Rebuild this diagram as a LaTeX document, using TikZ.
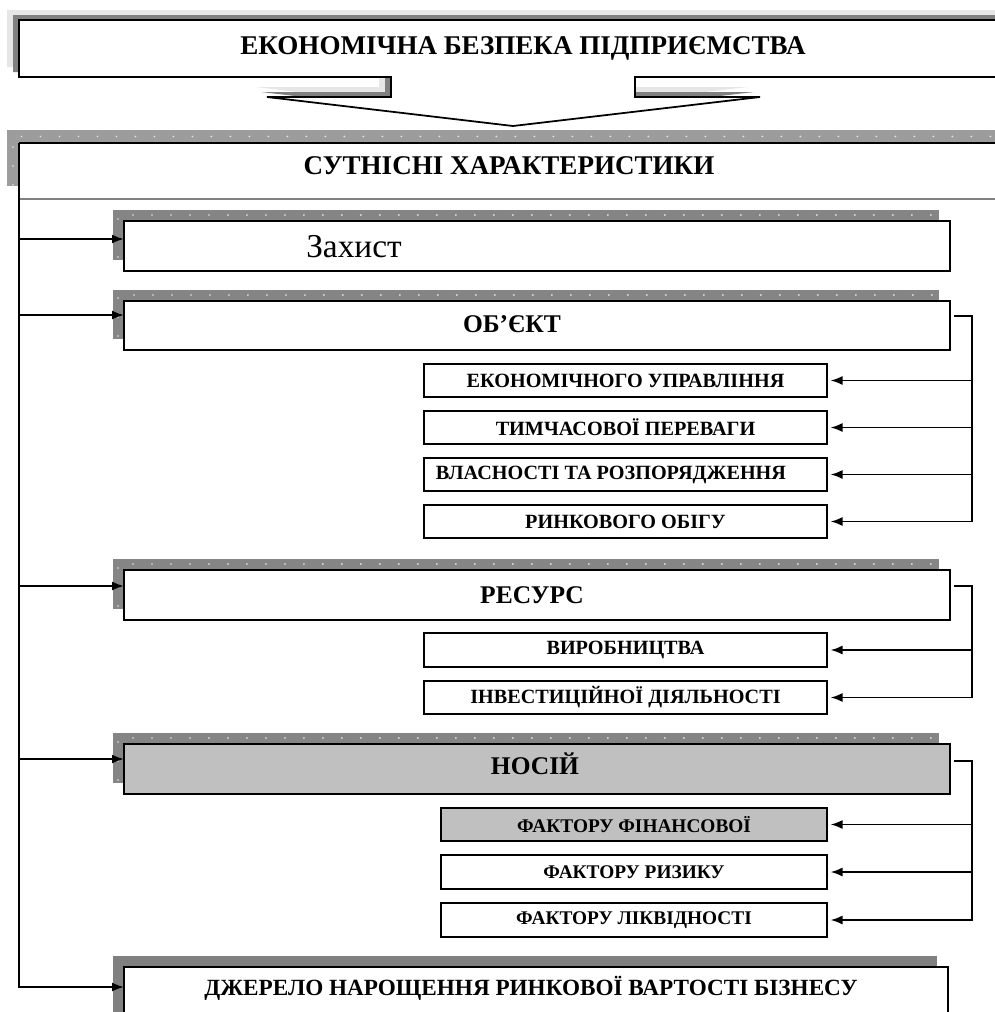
\documentclass[tikz,border=0pt]{standalone}
\usepackage{fontspec}
\setmainfont{Liberation Serif}
\usetikzlibrary{arrows.meta,shadows}

\definecolor{shdark}{HTML}{808080}
\definecolor{shlight}{HTML}{E6E6E6}
\definecolor{shdot}{HTML}{858585}
\definecolor{hdrgray}{HTML}{9C9C9C}
\definecolor{silver}{HTML}{C0C0C0}

\tikzset{
  sz/.style 2 args={minimum width=#1*0.02cm, minimum height=#2*0.02cm},
  titlefont/.style={font=\bfseries\fontsize{15.4}{18}\selectfont},
  bigfont/.style={font=\bfseries\fontsize{14.5}{17}\selectfont},
  bigbox/.style={draw, line width=1pt, fill=white, anchor=north west,
    inner sep=0pt, outer sep=0pt, bigfont},
  dotshadow/.style={drop shadow={shadow xshift=-0.22cm, shadow yshift=0.22cm,
    fill=shdot, opacity=1}},
  flatshadow/.style={drop shadow={shadow xshift=-0.22cm, shadow yshift=0.22cm,
    fill=shdark, opacity=1}},
  subfont/.style={font=\bfseries\fontsize{11.5}{13}\selectfont},
  subbox/.style={draw, line width=0.8pt, fill=white, anchor=north west,
    inner sep=0pt, outer sep=0pt, subfont},
  arr/.style={line width=1.1pt, -{Latex[length=2.4mm,width=1.8mm]}},
  dotrow/.style={white!80!gray, line width=1.1pt, line cap=round,
    dash pattern=on 0pt off 0.38cm},
}

\begin{document}
\begin{tikzpicture}[x=0.02cm, y=-0.02cm]
\useasboundingbox (0,0) rectangle (995,1012);

% title with the down pointer
\foreach \dx/\dy/\c in {-12/-10/shlight,-6/-5/shdark,0/0/white}
  \fill[\c, shift={(\dx,\dy)}] (19,20) -- (1010,20) -- (1010,77) -- (635,77)
    -- (635,97) -- (760,97) -- (513,126) -- (267,97) -- (391,97) -- (391,77)
    -- (19,77) -- cycle;
\draw[line width=1pt] (19,20) -- (1010,20) -- (1010,77) -- (635,77)
    -- (635,97) -- (760,97) -- (513,126) -- (267,97) -- (391,97) -- (391,77)
    -- (19,77) -- cycle;
\node[titlefont] (top) at (523,48) {ЕКОНОМІЧНА БЕЗПЕКА ПІДПРИЄМСТВА};

% header
\node[anchor=north west, sz={1000}{56}, inner sep=0pt, outer sep=0pt, fill=white,
  drop shadow={shadow xshift=-0.24cm, shadow yshift=0.26cm, fill=hdrgray, opacity=1}]
  (hdr) at (19,143) {};
\draw[dotrow] ([shift={(-6,-14)}]hdr.south west) -- ([shift={(-6,-6.5)}]hdr.north west)
  -- ([shift={(-10,-6.5)}]hdr.north east);
\draw[shdark, line width=0.6pt] (hdr.south west) -- (hdr.south east);
\draw[line width=1pt] (hdr.north east) -- (hdr.north west);
\node[titlefont] (hdrtxt) at (509,166) {СУТНІСНІ ХАРАКТЕРИСТИКИ};

% main boxes
\node[bigbox, dotshadow, sz={826}{50}] (zah) at (124,221) {};
\node[font=\fontsize{19}{22}\selectfont] (zahtxt) at (354,247) {Захист};
\node[bigbox, dotshadow, sz={826}{49}] (obj) at (124,301) {};
\node[bigfont] (objtxt) at (512,324) {ОБ’ЄКТ};
\node[bigbox, dotshadow, sz={826}{50}] (res) at (124,570) {};
\node[bigfont] (restxt) at (532,595) {РЕСУРС};
\node[bigbox, dotshadow, fill=silver, sz={826}{50}] (nos) at (124,744) {};
\node[bigfont] (nostxt) at (535,764) {НОСІЙ};
\node[bigbox, flatshadow, sz={824}{70}] (dzh) at (124,967) {};
\node[font=\bfseries\fontsize{13.2}{16}\selectfont] (dzhtxt) at (531,988)
  {ДЖЕРЕЛО НАРОЩЕННЯ РИНКОВОЇ ВАРТОСТІ БІЗНЕСУ};

\foreach \b in {zah,obj,res,nos}
  \draw[dotrow] ([shift={(-6,-14)}]\b.south west) -- ([shift={(-6,-6)}]\b.north west)
    -- ([shift={(-14,-6)}]\b.north east);

% sub boxes
\node[subbox, sz={403}{33}] (ob1) at (424,364) {ЕКОНОМІЧНОГО УПРАВЛІННЯ};
\node[subbox, sz={403}{33}] (ob2) at (424,411) {ТИМЧАСОВОЇ ПЕРЕВАГИ};
\node[subbox, sz={403}{33}] (ob3) at (424,458) {};
\node[subfont] (ob3txt) at (611,475) {ВЛАСНОСТІ ТА РОЗПОРЯДЖЕННЯ};
\node[subbox, sz={403}{33}] (ob4) at (424,505) {РИНКОВОГО ОБІГУ};

\node[subbox, sz={403}{34}] (rs1) at (424,633) {ВИРОБНИЦТВА};
\node[subbox, sz={403}{33}] (rs2) at (424,681) {ІНВЕСТИЦІЙНОЇ ДІЯЛЬНОСТІ};

\node[subbox, fill=silver, sz={386}{33}, font=\bfseries\fontsize{11}{13}\selectfont]
  (nf1) at (441,808) {ФАКТОРУ ФІНАНСОВОЇ};
\node[subbox, sz={386}{34}, font=\bfseries\fontsize{11}{13}\selectfont]
  (nf2) at (441,855) {ФАКТОРУ РИЗИКУ};
\node[subbox, sz={386}{34}, font=\bfseries\fontsize{11}{13}\selectfont]
  (nf3) at (441,903) {ФАКТОРУ ЛІКВІДНОСТІ};

% left spine
\foreach \b/\d in {zah/18,obj/14,res/16,nos/15,dzh/20}
  \coordinate (in\b) at ([shift={(0,\d)}]\b.north west);
\draw[arr] (hdr.north west) |- (indzh);
\foreach \b in {zah,obj,res,nos}
  \draw[arr] (hdr.south west |- in\b) -- (in\b);

% right brackets
\foreach \b/\d in {obj/15,res/16,nos/17} {
  \coordinate (out\b) at ([shift={(4,\d)}]\b.north east);
  \coordinate (br\b) at ([shift={(22,\d)}]\b.north east);
}
\draw[arr, shorten >=2pt] (outobj) -- (brobj) |- (ob4.east);
\foreach \s in {ob1,ob2,ob3}
  \draw[arr, shorten >=2pt] (brobj |- \s.east) -- (\s.east);
\draw[arr, shorten >=2pt] (outres) -- (brres) |- (rs2.east);
\draw[arr, shorten >=2pt] (brres |- rs1.east) -- (rs1.east);
\draw[arr, shorten >=2pt] (outnos) -- (brnos) |- (nf3.east);
\foreach \s in {nf1,nf2}
  \draw[arr, shorten >=2pt] (brnos |- \s.east) -- (\s.east);

\end{tikzpicture}
\end{document}
